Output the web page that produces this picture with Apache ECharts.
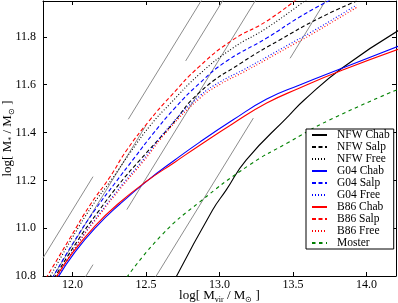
<!DOCTYPE html>
<html><head><meta charset="utf-8">
<script src="https://cdn.jsdelivr.net/npm/echarts@6/dist/echarts.min.js"></script>
<style>html,body{margin:0;padding:0;background:#fff}#c{width:398px;height:303px}</style>
</head><body><div id="c"></div>
<script>
// ---- data ----
const xTicks = [12.0, 12.5, 13.0, 13.5, 14.0];
const yTicks = [10.8, 11.0, 11.2, 11.4, 11.6, 11.8];
const seriesNames = ['NFW Chab','NFW Salp','NFW Free','G04 Chab','G04 Salp','G04 Free','B86 Chab','B86 Salp','B86 Free','Moster'];

const nfwChab = [[12.70,10.79],[12.953,11.076],[13.045,11.159],[13.181,11.285],[13.475,11.473],[13.576,11.536],[13.834,11.670],[14.22,11.828]];
const nfwSalp = [[11.875,10.79],[12.038,10.95],[12.173,11.067],[12.323,11.188],[12.459,11.285],[12.662,11.423],[12.866,11.569],[13.158,11.695],[13.409,11.787],[13.681,11.879],[13.932,11.95]];
const nfwFree = [[11.842,10.79],[11.997,10.958],[12.133,11.092],[12.268,11.205],[12.391,11.314],[12.526,11.427],[12.662,11.519],[12.866,11.645],[13.090,11.753],[13.321,11.837],[13.60,11.96]];
const g04Chab = [[11.898,10.79],[12.017,10.90],[12.167,11.009],[12.323,11.101],[12.506,11.197],[12.696,11.285],[12.866,11.36],[13.09,11.452],[13.321,11.54],[13.545,11.599],[13.837,11.67],[14.22,11.762]];
const g04Salp = [[11.862,10.79],[12.017,10.95],[12.153,11.076],[12.289,11.188],[12.425,11.297],[12.547,11.394],[12.696,11.502],[12.866,11.607],[13.049,11.699],[13.321,11.795],[13.545,11.883],[13.77,11.96]];
const g04Free = [[11.89,10.79],[12.051,10.95],[12.187,11.063],[12.336,11.18],[12.479,11.285],[12.662,11.427],[12.866,11.553],[13.002,11.611],[13.158,11.661],[13.321,11.716],[13.477,11.77],[13.613,11.816],[13.932,11.933]];
const b86Chab = [[11.884,10.79],[12.004,10.90],[12.153,11.009],[12.309,11.101],[12.506,11.197],[12.696,11.276],[12.866,11.347],[13.09,11.437],[13.321,11.523],[13.545,11.586],[13.837,11.661],[14.22,11.749]];
const b86Salp = [[11.82,10.79],[11.983,10.958],[12.119,11.096],[12.255,11.214],[12.370,11.327],[12.526,11.452],[12.662,11.548],[12.866,11.678],[13.090,11.787],[13.321,11.866],[13.53,11.96]];
const b86Free = [[11.888,10.79],[12.051,10.947],[12.187,11.058],[12.336,11.173],[12.479,11.277],[12.662,11.418],[12.866,11.543],[13.002,11.601],[13.158,11.651],[13.321,11.706],[13.477,11.76],[13.613,11.806],[13.932,11.923]];
const moster  = [[12.37,10.795],[12.607,10.971],[12.864,11.109],[13.203,11.264],[13.461,11.356],[13.746,11.452],[14.22,11.582]];

// constant-fraction guide lines (segments, broken where the labels sit)
const guide070 = [[11.80,10.8755],[12.14,11.2155],null,[12.38,11.4555],[12.885,11.9605]];
const guide050 = [[11.8606,10.79],[12.50,11.4294],null,[12.77,11.6994],[13.03,11.9594]];
const guide030 = [[12.0824,10.79],[12.14,10.8476],null,[12.37,11.0776],[13.2524,11.96]];
const guide010 = [[12.5596,10.79],[13.23,11.4604],null,[13.48,11.7104],[13.7296,11.96]];
const guideLabels = ['0.700','0.500','0.300','0.100'];
const guideLabelX = [12.254, 12.641, 12.254, 13.353];
const guideLabelY = [11.33, 11.570, 10.962, 11.583];

// ---- chart ----
const serif = 'Liberation Serif';
const DASH = [4, 2.5], DOT = [1, 2];
function curve(name, data, color, type) {
  return {name, type:'line', data, symbol:'none', showSymbol:false, smooth:0.5,
    lineStyle:{color, width:1.1, type}, itemStyle:{color}, z:3, silent:true};
}
function guide(data) {
  return {type:'line', data, symbol:'none', connectNulls:false, lineStyle:{color:'#8c8c8c', width:1}, z:2, silent:true};
}
const series = [
  guide(guide070), guide(guide050), guide(guide030), guide(guide010),
  {type:'scatter', symbol:'circle', symbolSize:1, itemStyle:{opacity:0}, silent:true,
   data: guideLabels.map((n,i)=>({name:n, value:[guideLabelX[i], guideLabelY[i]]})),
   label:{show:true, position:'inside', formatter:'{b}', rotate:30, color:'#8c8c8c', fontSize:7, fontFamily:'DejaVu Sans'}},
  curve(seriesNames[0], nfwChab, '#000000', 'solid'),
  curve(seriesNames[1], nfwSalp, '#000000', DASH),
  curve(seriesNames[2], nfwFree, '#000000', DOT),
  curve(seriesNames[3], g04Chab, '#0000ff', 'solid'),
  curve(seriesNames[4], g04Salp, '#0000ff', DASH),
  curve(seriesNames[5], g04Free, '#0000ff', DOT),
  curve(seriesNames[6], b86Chab, '#ff0000', 'solid'),
  curve(seriesNames[7], b86Salp, '#ff0000', DASH),
  curve(seriesNames[8], b86Free, '#ff0000', DOT),
  curve(seriesNames[9], moster, '#008000', [3.5, 3.5])
];
const axisLine = {show:true, onZero:false, lineStyle:{color:'#000', width:1}};
const tick = (vals)=>({show:true, inside:true, length:4, lineStyle:{color:'#000'}, customValues:vals});
const nameRich = {
  n:{fontFamily:serif, fontSize:13, color:'#000', lineHeight:16},
  s:{fontFamily:serif, fontSize:8, color:'#000', lineHeight:8, verticalAlign:'bottom', padding:[0,0,0,0]}
};
const chart = echarts.init(document.getElementById('c'), null, {renderer:'canvas'});
chart.setOption({
  animation:false,
  backgroundColor:'#fff',
  grid:{left:43, right:2, top:1, bottom:27, containLabel:false, outerBoundsMode:'none'},
  xAxis:[
    {type:'value', min:11.8, max:14.2, position:'bottom', axisLine, axisTick:tick(xTicks), splitLine:{show:false},
     axisLabel:{customValues:xTicks, formatter:v=>v.toFixed(1), fontFamily:serif, fontSize:12, color:'#000', margin:3},
     name:'{n|log[ M}{s|vir}{n| / M}{s|⊙}{n| ]}', nameLocation:'middle', nameGap:12, nameMoveOverlap:false, nameTextStyle:{rich:nameRich}},
    {type:'value', min:11.8, max:14.2, position:'top', axisLine, axisTick:tick(xTicks), splitLine:{show:false}, axisLabel:{show:false}}
  ],
  yAxis:[
    {type:'value', min:10.8, max:11.95, position:'left', axisLine, axisTick:tick(yTicks), splitLine:{show:false},
     axisLabel:{customValues:yTicks, formatter:v=>v.toFixed(1), fontFamily:serif, fontSize:12, color:'#000', margin:7},
     name:'{n|log[ M}{s|*}{n| / M}{s|⊙}{n| ]}', nameLocation:'middle', nameGap:27, nameMoveOverlap:false, nameRotate:90, nameTextStyle:{rich:nameRich}},
    {type:'value', min:10.8, max:11.95, position:'right', axisLine, axisTick:tick(yTicks), splitLine:{show:false}, axisLabel:{show:false}}
  ],
  legend:{data:seriesNames, orient:'vertical', left:306, top:129, itemWidth:15, itemHeight:14, itemGap:0,
    padding:[0,4,0,5], backgroundColor:'#fff', borderColor:'#000', borderWidth:1, borderRadius:0,
    itemStyle:{opacity:0}, 
    textStyle:{fontFamily:serif, fontSize:11.5, color:'#000', padding:[0,0,0,5]}, selectedMode:false},
  series
});
</script></body></html>
